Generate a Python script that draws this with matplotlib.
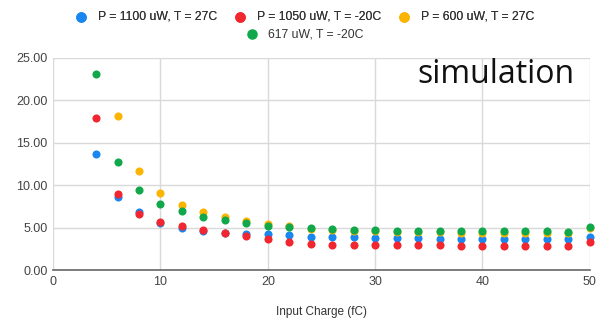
import matplotlib.pyplot as plt
import numpy as np

charge = [4, 6, 8, 10, 12, 14, 16, 18, 20, 22, 24, 26, 28, 30, 32, 34, 36, 38, 40, 42, 44, 46, 48, 50]

p1100_t27 = [13.7, 8.6, 6.9, 5.6, 5.0, 4.6, 4.4, 4.3, 4.2, 4.1, 3.95, 3.9, 3.85, 3.8, 3.75, 3.75,
             3.72, 3.7, 3.7, 3.7, 3.7, 3.7, 3.7, 3.95]
p1050_tm20 = [17.9, 8.95, 6.6, 5.7, 5.15, 4.7, 4.35, 4.0, 3.65, 3.25, 3.05, 3.0, 2.95, 2.9, 2.9, 2.9,
              2.9, 2.85, 2.85, 2.85, 2.85, 2.85, 2.85, 3.25]
p600_t27 = [None, 18.1, 11.7, 9.05, 7.7, 6.85, 6.3, 5.8, 5.45, 5.15, 4.85, 4.75, 4.6, 4.55, 4.5, 4.45,
            4.45, 4.4, 4.4, 4.4, 4.35, 4.35, 4.35, 5.0]
p617_tm20 = [23.1, 12.7, 9.45, 7.8, 6.95, 6.3, 5.85, 5.5, 5.25, 5.1, 4.9, 4.85, 4.75, 4.7, 4.65, 4.65,
             4.62, 4.6, 4.6, 4.58, 4.55, 4.55, 4.5, 5.1]

labels = ["P = 1100 uW, T = 27C", "P = 1050 uW, T = -20C", "P = 600 uW, T = 27C", "617 uW, T = -20C"]
colors = ["#1a86f0", "#f2262e", "#fbb400", "#10a84a"]

plt.rcParams['font.family'] = ['Liberation Sans', 'DejaVu Sans']

fig = plt.figure(figsize=(5.97, 3.2), dpi=100)
ax = fig.add_axes([0.089, 0.156, 0.899, 0.663])

handles = []
for vals, lab, col in zip([p1100_t27, p1050_tm20, p600_t27, p617_tm20], labels, colors):
    xs = [c for c, v in zip(charge, vals) if v is not None]
    ys = [v for v in vals if v is not None]
    h = ax.scatter(xs, ys, s=34, color=col, label=lab, zorder=3, linewidths=0, clip_on=False)
    handles.append(h)

ax.set_xlim(0, 50)
ax.set_ylim(0, 25)
ax.set_xticks([0, 10, 20, 30, 40, 50])
ax.set_yticks([0, 5, 10, 15, 20, 25])
ax.set_yticklabels([f"{v:.2f}" for v in [0, 5, 10, 15, 20, 25]])
ax.grid(True, color="#d9d9d9", linewidth=1)
ax.set_axisbelow(True)
for s in ["top", "right", "left"]:
    ax.spines[s].set_visible(False)
ax.spines["bottom"].set_color("#666666")
ax.spines["bottom"].set_linewidth(1.2)
ax.tick_params(length=0, labelsize=9, colors="#444444", pad=4)
ax.set_xlabel("Input Charge (fC)", fontsize=8.5, color="#333333", labelpad=13)

# annotation pasted on the chart
ax.text(0.972, 0.882, "simulation", transform=ax.transAxes, ha="right", va="baseline",
        fontsize=23, family="Open Sans", color="#111111")

leg1 = fig.legend(handles[:3], labels[:3], loc="center", bbox_to_anchor=(0.505, 0.947), ncol=3,
                  frameon=False, fontsize=8.8, handletextpad=0.35, columnspacing=0.9, markerscale=1.3,
                  borderaxespad=0)
fig.legend(handles[3:], labels[3:], loc="center", bbox_to_anchor=(0.505, 0.893), ncol=1,
           frameon=False, fontsize=8.8, handletextpad=0.35, markerscale=1.3, borderaxespad=0)
fig.add_artist(leg1)
for leg in fig.legends:
    for t in leg.get_texts():
        t.set_color("#333333")

fig.savefig("out.png", dpi=100)
